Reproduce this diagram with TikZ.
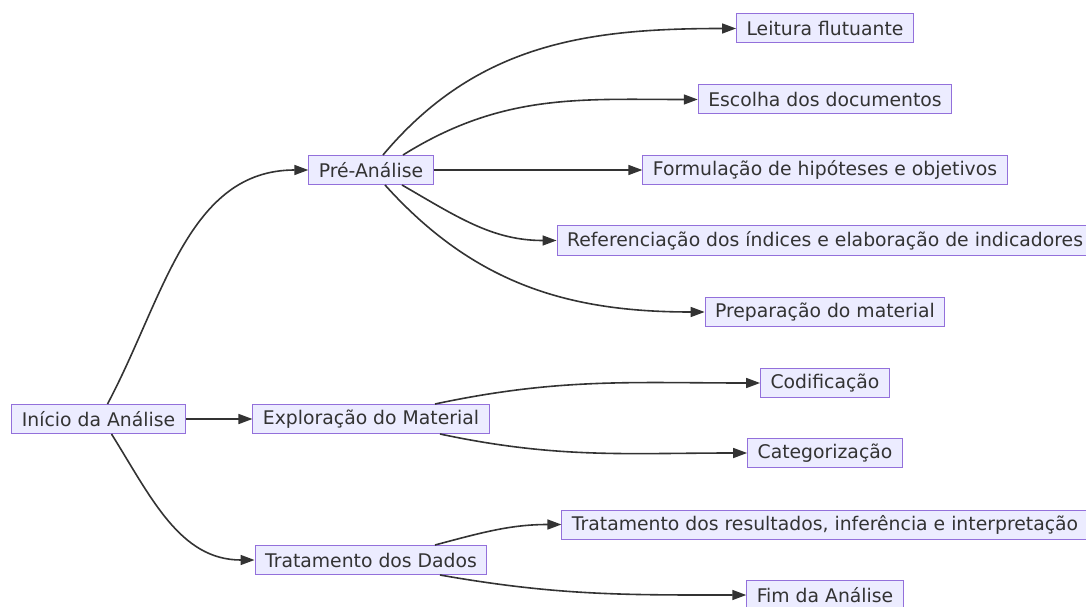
\documentclass[tikz,border=0pt]{standalone}
\usepackage{fontspec}
\setmainfont{DejaVu Sans}
\usetikzlibrary{arrows.meta}
\definecolor{boxfill}{HTML}{ECECFF}
\definecolor{boxline}{HTML}{9370DB}
\definecolor{ink}{HTML}{333333}
\begin{document}
\begin{tikzpicture}[x=1pt,y=1pt,
    box/.style={draw=boxline,fill=boxfill,text=ink,line width=1pt,inner xsep=10pt,
        inner ysep=2pt,minimum height=29pt,font=\fontsize{18.8}{20}\selectfont},
    link/.style={draw=ink,line width=1.6pt,-{Triangle[length=14pt,width=10pt]}}]

    \useasboundingbox (0,0) rectangle (1086,606);

    \node[box] (ini)  at (98.5,187) {Início da Análise};
    \node[box] (pre)  at (371,436)  {Pré-Análise};
    \node[box] (expl) at (371,187)  {Exploração do Material};
    \node[box] (tdd)  at (371,46)   {Tratamento dos Dados};

    \node[box] (leit) at (825,577.5) {Leitura flutuante};
    \node[box] (esc)  at (825,506.5) {Escolha dos documentos};
    \node[box] (form) at (825,436)   {Formulação de hipóteses e objetivos};
    \node[box] (ref)  at (825,365.5) {Referenciação dos índices e elaboração de indicadores};
    \node[box] (prep) at (825,294)   {Preparação do material};
    \node[box] (cod)  at (825,223)   {Codificação};
    \node[box] (cat)  at (825,153)   {Categorização};
    \node[box] (tres) at (825,81.5)  {Tratamento dos resultados, inferência e interpretação};
    \node[box] (fim)  at (825,11)    {Fim da Análise};

    \draw[link] ([xshift=9pt]ini.north) to[out=62,in=180] (pre.west);
    \draw[link] (ini.east) -- (expl.west);
    \draw[link] ([xshift=13pt]ini.south) to[out=-58,in=180] (tdd.west);

    \draw[link] ([xshift=12pt]pre.north) to[out=50,in=180] (leit.west);
    \draw[link] ([xshift=32pt]pre.north) to[out=32,in=180] (esc.west);
    \draw[link] (pre.east) -- (form.west);
    \draw[link] ([xshift=31pt]pre.south) to[out=-30,in=180] (ref.west);
    \draw[link] ([xshift=14pt]pre.south) to[out=-48,in=180] (prep.west);

    \draw[link] ([xshift=64pt]expl.north) to[out=12,in=180] (cod.west);
    \draw[link] ([xshift=69pt]expl.south) to[out=-12,in=180] (cat.west);

    \draw[link] ([xshift=64pt]tdd.north) to[out=15,in=180] (tres.west);
    \draw[link] ([xshift=69pt]tdd.south) to[out=-10,in=180] (fim.west);

\end{tikzpicture}
\end{document}
